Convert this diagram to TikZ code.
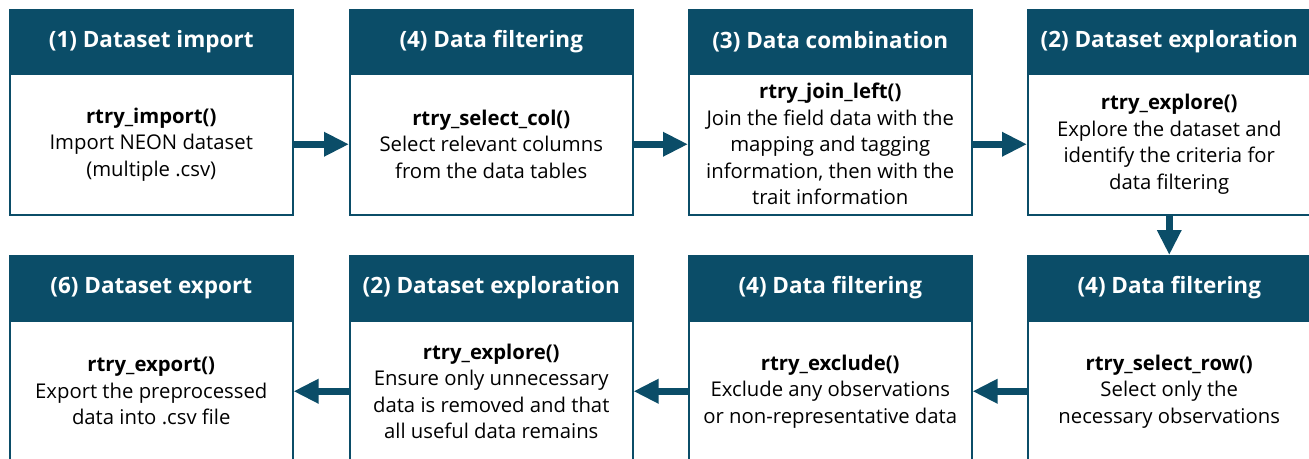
\documentclass[tikz,border=0pt]{standalone}
\usepackage{fontspec}
\setmainfont{Open Sans}
\usetikzlibrary{arrows.meta}
\definecolor{hdrblue}{RGB}{11,77,104}
\begin{document}
\begin{tikzpicture}[x=1pt,y=-1pt,
  hdr/.style={draw=hdrblue, fill=hdrblue, line width=1.5pt, minimum width=283pt, minimum height=64pt,
    text=white, font=\fontsize{22.5}{27}\selectfont\bfseries, inner sep=0pt, anchor=north west},
  body/.style={draw=hdrblue, fill=white, line width=1.5pt, minimum width=283pt, minimum height=141pt,
    text=black, font=\fontsize{20.3}{26.5}\selectfont, align=center, inner sep=0pt, anchor=north west},
  flow/.style={line width=7pt, draw=hdrblue, -{Triangle[length=25pt,width=23pt]}}]
\useasboundingbox (0,0) rectangle (1309,458);
\clip (0,0) rectangle (1309,458);
% top row
\node[body] (b1) at (9,73) {\textbf{rtry\_import()}\\Import NEON dataset\\(multiple .csv)};
\node[hdr] (h1) at (9,9) {(1) Dataset import};
\node[body] (b2) at (349,73) {\textbf{rtry\_select\_col()}\\Select relevant columns\\from the data tables};
\node[hdr] (h2) at (349,9) {(4) Data filtering};
\node[body] (b3) at (688,73) {\textbf{rtry\_join\_left()}\\Join the field data with the\\mapping and tagging\\information, then with the\\trait information};
\node[hdr] (h3) at (688,9) {(3) Data combination};
\node[body] (b4) at (1027,73) {\textbf{rtry\_explore()}\\Explore the dataset and\\identify the criteria for\\data filtering};
\node[hdr] (h4) at (1027,9) {(2) Dataset exploration};
% bottom row
\node[body] (b5) at (1027,320) {\textbf{rtry\_select\_row()}\\Select only the\\necessary observations};
\node[hdr] (h5) at (1027,255) {(4) Data filtering};
\node[body] (b6) at (688,320) {\textbf{rtry\_exclude()}\\Exclude any observations\\or non-representative data};
\node[hdr] (h6) at (688,255) {(4) Data filtering};
\node[body] (b7) at (349,320) {\textbf{rtry\_explore()}\\Ensure only unnecessary\\data is removed and that\\all useful data remains};
\node[hdr] (h7) at (349,255) {(2) Dataset exploration};
\node[body] (b8) at (9,320) {\textbf{rtry\_export()}\\Export the preprocessed\\data into .csv file};
\node[hdr] (h8) at (9,255) {(6) Dataset export};
% arrows
\draw[flow] (b1.east) -- (b2.west);
\draw[flow] (b2.east) -- (b3.west);
\draw[flow] (b3.east) -- (b4.west);
\draw[flow] (b4.south) -- (h5.north);
\draw[flow] (b5.west) -- (b6.east);
\draw[flow] (b6.west) -- (b7.east);
\draw[flow] (b7.west) -- (b8.east);
\end{tikzpicture}
\end{document}
